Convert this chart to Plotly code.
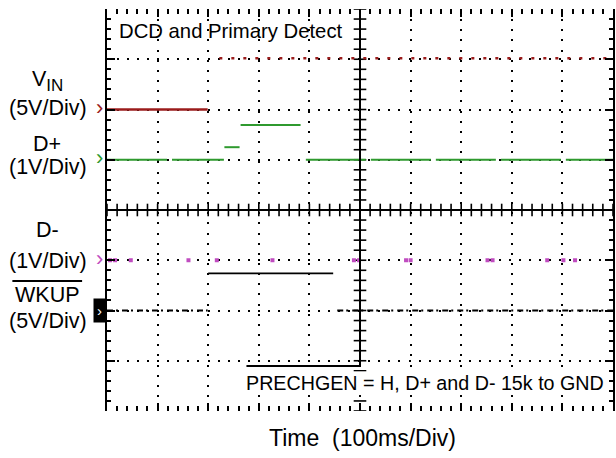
import plotly.graph_objects as go

# ---------------- data (time in ms, levels in volts) ----------------
vin_low_t = [0, 199]
vin_low_v = [0, 0]
vin_high_t = [222, 1000]
vin_high_v = [5.1, 5.1]

dp_t = [0, 231, None, 232, 262, None, 264, 391, None, 393, 1000]
dp_v = [0, 0, None, 0.25, 0.25, None, 0.69, 0.69, None, 0, 0]

dm_t = [6, 16, 47, 161, 217, 327, 488, 498, 591, 600, 752, 762, 870, 902, 925]
dm_v = [0, 0, 0, 0, 0, 0, 0, 0, 0, 0, 0, 0, 0, 0, 0]

wk_low_t = [0, 199, None, 455, 1000]
wk_low_v = [0, 0, None, 0, 0]
wk_high_t = [200, 447]
wk_high_v = [3.7, 3.7]

# channel settings: (ground offset in divisions, volts per division)
ch_vin = (2, 5)
ch_dp = (1, 1)
ch_dm = (-1, 1)
ch_wk = (-2, 5)

C_VIN = "#9b1c1c"
C_DP = "#2f9a2f"
C_DM = "#c04cc0"
C_WK = "#000000"


def to_div(vals, ch):
    off, scale = ch
    return [None if v is None else off + v / scale for v in vals]


W, H = 616, 458
L, R, T, B = 107, 1, 9, 47
PW, PH = W - L - R, H - T - B


def px(x):
    return (x - L) / PW


def py(y):
    return (H - B - y) / PH


fig = go.Figure()


def add_line(t, v, ch, color, width=2, dash="solid"):
    fig.add_trace(go.Scatter(x=t, y=to_div(v, ch), mode="lines",
                             line=dict(color=color, width=width, dash=dash),
                             connectgaps=False, hoverinfo="skip", showlegend=False))


# centre cross tick marks (graticule decoration)
cx = 500
hticks = [i * 20 for i in range(51)]
vticks = [-4 + i * 0.2 for i in range(41)]
fig.add_trace(go.Scatter(x=hticks, y=[0] * len(hticks), mode="markers",
                         marker=dict(symbol="line-ns", size=9, line=dict(width=1.6, color="black")),
                         hoverinfo="skip", showlegend=False))
fig.add_trace(go.Scatter(x=[cx] * len(vticks), y=vticks, mode="markers",
                         marker=dict(symbol="line-ew", size=9, line=dict(width=1.6, color="black")),
                         hoverinfo="skip", showlegend=False))

add_line(vin_low_t, vin_low_v, ch_vin, C_VIN, 2.4)
add_line(vin_high_t, vin_high_v, ch_vin, C_VIN, 2.6, "3px,9px")
add_line(dp_t, dp_v, ch_dp, C_DP, 2, "60px,5px")
fig.add_trace(go.Scatter(x=dm_t, y=to_div(dm_v, ch_dm), mode="markers",
                         marker=dict(color=C_DM, size=4, symbol="square"),
                         hoverinfo="skip", showlegend=False))
add_line(wk_low_t, wk_low_v, ch_wk, C_WK, 2, "6px,3px,2px,4px")
add_line(wk_high_t, wk_high_v, ch_wk, C_WK, 1.8)

font = "Liberation Sans, Arial, sans-serif"

shapes = [
    # centre graticule lines
    dict(type="line", xref="x", yref="y", x0=0, x1=1000, y0=0, y1=0,
         line=dict(color="black", width=2)),
    dict(type="line", xref="x", yref="paper", x0=cx, x1=cx, y0=py(366), y1=1,
         line=dict(color="black", width=2)),
    # overline PRECHGEN
    dict(type="line", xref="paper", yref="paper", x0=px(247), x1=0.5, y0=py(366), y1=py(366),
         line=dict(color="black", width=2)),
    # overline WKUP
    dict(type="line", xref="paper", yref="paper", x0=px(12), x1=px(82), y0=py(281), y1=py(281),
         line=dict(color="black", width=2)),
]

ann = []


def label(text, xc, yc, size=21.5, color="black", **kw):
    d = dict(text=text, xref="paper", yref="paper", x=px(xc), y=py(yc), showarrow=False,
             xanchor="center", yanchor="middle", font=dict(family=font, size=size, color=color))
    d.update(kw)
    ann.append(d)


label("V<sub><span style='font-size:17px'>IN</span></sub>", 47, 81)
label("(5V/Div)", 48, 108)
label("D+", 47, 144)
label("(1V/Div)", 48, 167)
label("D-", 47, 230)
label("(1V/Div)", 48, 261)
label("WKUP", 47, 295)
label("(5V/Div)", 48, 321)

# ground markers
label("›", 99, 107, size=22, color=C_VIN)
label("›", 99, 157, size=22, color=C_DP)
label("›", 99, 258, size=22, color=C_DM)
label("›", 99, 310, size=15, color="white", bgcolor="black", borderpad=3)

ann.append(dict(text="DCD and Primary Detect", xref="paper", yref="paper", x=px(117), y=py(31),
                xanchor="left", yanchor="middle", showarrow=False,
                font=dict(family=font, size=20.3, color="black")))
ann.append(dict(text="PRECHGEN = H, D+ and D- 15k to GND", xref="paper", yref="paper",
                x=px(246), y=py(383), xanchor="left", yanchor="middle", showarrow=False,
                bgcolor="white", borderpad=0,
                font=dict(family=font, size=19.7, color="black")))
ann.append(dict(text="Time  (100ms/Div)", xref="paper", yref="paper", x=px(364), y=py(438),
                xanchor="center", yanchor="middle", showarrow=False,
                font=dict(family=font, size=23, color="black")))

fig.update_layout(
    width=W, height=H, margin=dict(l=L, r=R, t=T, b=B),
    paper_bgcolor="white", plot_bgcolor="white",
    shapes=shapes, annotations=ann, showlegend=False,
    xaxis=dict(range=[0, 1000], dtick=100, showgrid=True, gridcolor="black", gridwidth=1.6,
               griddash="2px,8.16px", zeroline=False, showline=False, showticklabels=False,
               ticks="inside", ticklen=8, tickcolor="black", tickwidth=1.5, mirror="ticks",
               minor=dict(dtick=20, ticks="inside", ticklen=5, tickcolor="black", tickwidth=1.5,
                          showgrid=False)),
    yaxis=dict(range=[-4, 4], dtick=1, showgrid=True, gridcolor="black", gridwidth=1.6,
               griddash="2px,8.05px", zeroline=False, showline=True, linecolor="black", linewidth=2,
               showticklabels=False, ticks="inside", ticklen=8, tickcolor="black", tickwidth=1.5,
               mirror="ticks",
               minor=dict(dtick=0.2, ticks="inside", ticklen=4, tickcolor="black", tickwidth=1.5,
                          showgrid=False)),
)

fig.write_html("out.html")
